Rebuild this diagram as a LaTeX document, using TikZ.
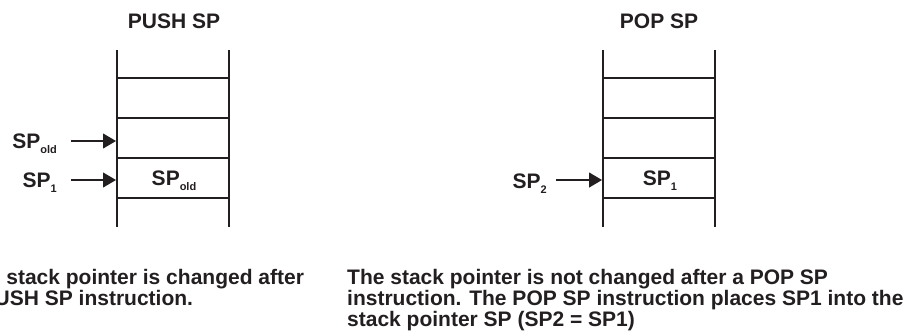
\documentclass[tikz,border=0pt]{standalone}
\usepackage{fontspec}
\setmainfont{Liberation Sans}
\usepackage{tikz}
\usetikzlibrary{arrows.meta}

\definecolor{ink}{RGB}{35,31,32}
\newcommand{\spsub}[1]{\raisebox{-5pt}{\fontsize{11}{11}\selectfont #1}}

\begin{document}
\begin{tikzpicture}[x=1pt,y=-1pt,
  rail/.style={ink, line width=2.4pt},
  rung/.style={ink, line width=2pt},
  ptr/.style={ink, line width=1.1pt, -{Triangle[length=13pt,width=15pt]}},
  lbl/.style={ink, font=\fontsize{21}{21}\selectfont\bfseries, inner sep=0pt}]

\clip (0,0) rectangle (909,333);

% PUSH SP stack
\node[lbl, anchor=base] (pushtitle) at (174,28) {PUSH SP};
\draw[rail] (117,50) -- (117,227);
\draw[rail] (229,50) -- (229,227);
\foreach \y in {78,118,158,198}
  \draw[rung] (117,\y) -- (229,\y);
\node[lbl, anchor=base] (pushcell) at (174,185) {SP\spsub{old}};

\coordinate (oldtip) at (116,141);
\coordinate (onetip) at (116,180);
\node[lbl, anchor=base east] (spold) at (57,148) {SP\spsub{old}};
\node[lbl, anchor=base east] (spone) at (57,187) {SP\spsub{1}};
\draw[ptr, shorten <=14pt] (spold.east |- oldtip) -- (oldtip);
\draw[ptr, shorten <=14pt] (spone.east |- onetip) -- (onetip);

% POP SP stack
\node[lbl, anchor=base] (poptitle) at (659,28) {POP SP};
\draw[rail] (603,50) -- (603,227);
\draw[rail] (715,50) -- (715,227);
\foreach \y in {78,118,158,198}
  \draw[rung] (603,\y) -- (715,\y);
\node[lbl, anchor=base] (popcell) at (660,185) {SP\spsub{1}};

\coordinate (twotip) at (602,180);
\node[lbl, anchor=base east] (sptwo) at (547,188) {SP\spsub{2}};
\draw[ptr, shorten <=9pt] (sptwo.east |- twotip) -- (twotip);

% notes (base = last line)
\node[lbl, anchor=base west, align=left] (pushnote) at (-37,305)
  {The stack pointer is changed after\\a PUSH SP instruction.};
\node[lbl, anchor=base west, align=left] (popnote) at (347,326)
  {The stack pointer is not changed after a POP SP\\instruction. The POP SP instruction places SP1 into the\\stack pointer SP (SP2 = SP1)};

\end{tikzpicture}
\end{document}
